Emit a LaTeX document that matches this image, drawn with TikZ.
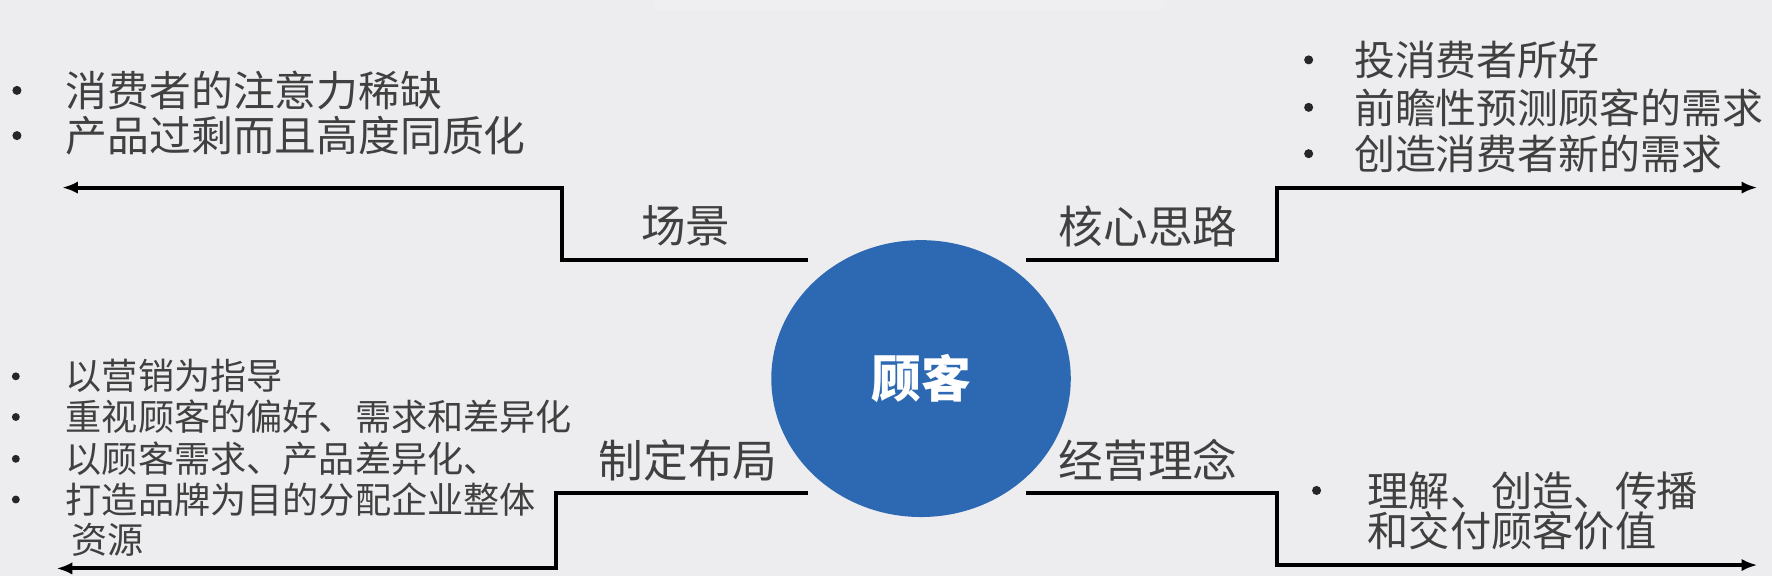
\documentclass[tikz,border=0pt]{standalone}
\usepackage{fontspec}
\setmainfont{Noto Sans CJK SC}
\usetikzlibrary{arrows.meta,shapes.geometric}
\definecolor{bgc}{HTML}{EDEDEF}
\definecolor{txt}{HTML}{404040}
\definecolor{circ}{HTML}{2C69B2}
\tikzset{
  conn/.style={line width=3.6pt, black, -{Latex[length=14pt,width=11pt]}},
  item/.style={anchor=west, inner sep=0pt, text=txt},
  bulletmark/.style={circle, fill=black!85, inner sep=0pt, minimum size=8pt},
  lbl/.style={anchor=center, inner sep=0pt, text=txt, font=\fontsize{39.5}{44}\selectfont},
}
\begin{document}
\begin{tikzpicture}[x=1pt,y=-1pt]
\fill[bgc] (0,0) rectangle (1568,510);
\useasboundingbox (0,0) rectangle (1568,510);
\fill[white, opacity=0.15] (580,0) rectangle (1030,9);

% centre
\node[ellipse, fill=circ, minimum width=265pt, minimum height=245pt, inner sep=0pt,
      text=white, font=\fontsize{44}{48}\selectfont\bfseries] (c) at (815,335) {顾客};

% labels
\node[lbl] (l1) at (607,200) {场景};
\node[lbl] (l2) at (1016,200) {核心思路};
\node[lbl] (l3) at (609,407) {制定布局};
\node[lbl] (l4) at (1016,407) {经营理念};

% connector coordinates
\coordinate (a0) at (715,230); \coordinate (a1) at (497,166); \coordinate (a2) at (55,166);
\coordinate (b0) at (908,230); \coordinate (b1) at (1130,166); \coordinate (b2) at (1555,166);
\coordinate (d0) at (715,436); \coordinate (d1) at (492,503); \coordinate (d2) at (50,503);
\coordinate (e0) at (908,436); \coordinate (e1) at (1130,500); \coordinate (e2) at (1555,500);

\draw[conn] (a0) -| (a1) -- (a2);
\draw[conn] (b0) -| (b1) -- (b2);
\draw[conn] (d0) -| (d1) -- (d2);
\draw[conn] (e0) -| (e1) -- (e2);

% top-left list
\node[bulletmark] (tlb1) at (15,80) {};
\node[bulletmark] (tlb2) at (15,120) {};
\begin{scope}[every node/.append style={font=\fontsize{37}{40}\selectfont}]
\node[item] (tl1) at (58,80) {消费者的注意力稀缺};
\node[item] (tl2) at (58,120) {产品过剩而且高度同质化};
\end{scope}

% top-right list
\node[bulletmark] (trb1) at (1158,53) {};
\node[bulletmark] (trb2) at (1158,95) {};
\node[bulletmark] (trb3) at (1158,136) {};
\begin{scope}[every node/.append style={font=\fontsize{36.2}{40}\selectfont}]
\node[item] (tr1) at (1198,53) {投消费者所好};
\node[item] (tr2) at (1198,95) {前瞻性预测顾客的需求};
\node[item] (tr3) at (1198,136) {创造消费者新的需求};
\end{scope}

% bottom-left list
\node[bulletmark, minimum size=7pt] (blb1) at (14,333) {};
\node[bulletmark, minimum size=7pt] (blb2) at (14,369) {};
\node[bulletmark, minimum size=7pt] (blb3) at (14,406) {};
\node[bulletmark, minimum size=7pt] (blb4) at (14,442) {};
\begin{scope}[every node/.append style={font=\fontsize{32}{36}\selectfont}]
\node[item] (bl1) at (58,333) {以营销为指导};
\node[item] (bl2) at (58,369) {重视顾客的偏好、需求和差异化};
\node[item] (bl3) at (58,406) {以顾客需求、产品差异化、};
\node[item] (bl4) at (58,442) {打造品牌为目的分配企业整体};
\node[item] (bl5) at (63,478) {资源};
\end{scope}

% bottom-right list
\node[bulletmark] (brb1) at (1165,434) {};
\begin{scope}[every node/.append style={font=\fontsize{36.5}{40}\selectfont}]
\node[item] (br1) at (1210,434) {理解、创造、传播};
\node[item] (br2) at (1210,470) {和交付顾客价值};
\end{scope}
\end{tikzpicture}
\end{document}
